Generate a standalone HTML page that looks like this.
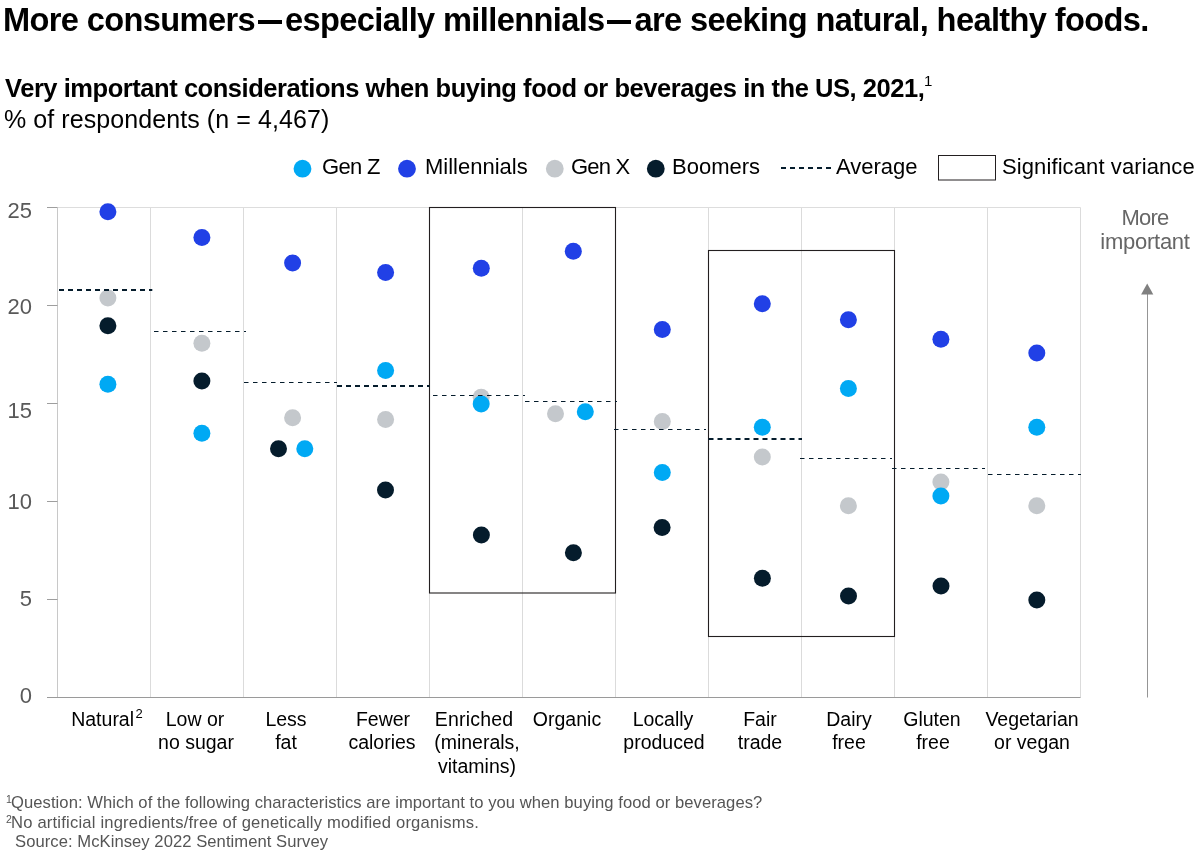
<!DOCTYPE html>
<html><head><meta charset="utf-8"><style>
html,body{margin:0;padding:0;background:#fff;}
body{width:1200px;height:852px;position:relative;overflow:hidden;font-family:"Liberation Sans",sans-serif;}
.t{position:absolute;white-space:nowrap;will-change:transform;}
.sup{font-weight:400;font-size:15px;position:relative;top:-11.5px;margin-left:-0.5px;letter-spacing:0;}
.sup2{font-size:13px;position:relative;top:-8px;margin-left:1.5px;}
.emd{display:inline-block;width:24px;height:3.6px;background:#000;margin:0 3.3px 0 2.7px;vertical-align:7.5px;}
.fsup{font-size:10.5px;position:relative;top:-5px;margin-left:-1px;margin-right:-0.8px;letter-spacing:0;}
</style></head><body>
<svg width="1200" height="852" style="position:absolute;left:0;top:0"><line x1="57.5" y1="207.5" x2="57.5" y2="697.5" stroke="#C8C8C8" stroke-width="1"/>
<line x1="150.5" y1="207.5" x2="150.5" y2="697.5" stroke="#DBDBDB" stroke-width="1"/>
<line x1="243.5" y1="207.5" x2="243.5" y2="697.5" stroke="#DBDBDB" stroke-width="1"/>
<line x1="336.5" y1="207.5" x2="336.5" y2="697.5" stroke="#DBDBDB" stroke-width="1"/>
<line x1="429.5" y1="207.5" x2="429.5" y2="697.5" stroke="#DBDBDB" stroke-width="1"/>
<line x1="522.5" y1="207.5" x2="522.5" y2="697.5" stroke="#DBDBDB" stroke-width="1"/>
<line x1="615.5" y1="207.5" x2="615.5" y2="697.5" stroke="#DBDBDB" stroke-width="1"/>
<line x1="708.5" y1="207.5" x2="708.5" y2="697.5" stroke="#DBDBDB" stroke-width="1"/>
<line x1="801.5" y1="207.5" x2="801.5" y2="697.5" stroke="#DBDBDB" stroke-width="1"/>
<line x1="894.5" y1="207.5" x2="894.5" y2="697.5" stroke="#DBDBDB" stroke-width="1"/>
<line x1="987.5" y1="207.5" x2="987.5" y2="697.5" stroke="#DBDBDB" stroke-width="1"/>
<line x1="1080.5" y1="207.5" x2="1080.5" y2="697.5" stroke="#DBDBDB" stroke-width="1"/>
<line x1="57.5" y1="207.5" x2="1080.5" y2="207.5" stroke="#DDDDDD" stroke-width="1"/>
<line x1="47" y1="207.49999999999994" x2="57.5" y2="207.49999999999994" stroke="#9E9E9E" stroke-width="1"/>
<line x1="47" y1="305.5" x2="57.5" y2="305.5" stroke="#9E9E9E" stroke-width="1"/>
<line x1="47" y1="403.5" x2="57.5" y2="403.5" stroke="#9E9E9E" stroke-width="1"/>
<line x1="47" y1="501.5" x2="57.5" y2="501.5" stroke="#9E9E9E" stroke-width="1"/>
<line x1="47" y1="599.5" x2="57.5" y2="599.5" stroke="#9E9E9E" stroke-width="1"/>
<line x1="47" y1="697.5" x2="57.5" y2="697.5" stroke="#9E9E9E" stroke-width="1"/>
<line x1="47" y1="697.5" x2="1080.5" y2="697.5" stroke="#9A9A9A" stroke-width="1"/>
<rect x="429.5" y="207.5" width="186" height="385.5" fill="none" stroke="#231F20" stroke-width="1.1"/>
<rect x="708.5" y="250.5" width="186" height="386" fill="none" stroke="#231F20" stroke-width="1.1"/>
<circle cx="107.9" cy="298.1" r="8.5" fill="#C4C8CC"/>
<circle cx="201.9" cy="343.2" r="8.5" fill="#C4C8CC"/>
<circle cx="292.6" cy="417.8" r="8.5" fill="#C4C8CC"/>
<circle cx="385.6" cy="419.4" r="8.5" fill="#C4C8CC"/>
<circle cx="481.2" cy="397.2" r="8.5" fill="#C4C8CC"/>
<circle cx="555.5" cy="413.8" r="8.5" fill="#C4C8CC"/>
<circle cx="662.3" cy="421.4" r="8.5" fill="#C4C8CC"/>
<circle cx="762.3" cy="456.9" r="8.5" fill="#C4C8CC"/>
<circle cx="848.4" cy="505.8" r="8.5" fill="#C4C8CC"/>
<circle cx="940.9" cy="482.1" r="8.5" fill="#C4C8CC"/>
<circle cx="1036.8" cy="505.8" r="8.5" fill="#C4C8CC"/>
<circle cx="107.9" cy="325.8" r="8.5" fill="#051C2C"/>
<circle cx="201.9" cy="381.0" r="8.5" fill="#051C2C"/>
<circle cx="278.5" cy="448.7" r="8.5" fill="#051C2C"/>
<circle cx="385.5" cy="490.0" r="8.5" fill="#051C2C"/>
<circle cx="481.4" cy="535.0" r="8.5" fill="#051C2C"/>
<circle cx="573.4" cy="552.8" r="8.5" fill="#051C2C"/>
<circle cx="662.1" cy="527.4" r="8.5" fill="#051C2C"/>
<circle cx="762.4" cy="578.3" r="8.5" fill="#051C2C"/>
<circle cx="848.5" cy="596.0" r="8.5" fill="#051C2C"/>
<circle cx="941" cy="586.0" r="8.5" fill="#051C2C"/>
<circle cx="1036.8" cy="599.9" r="8.5" fill="#051C2C"/>
<circle cx="107.9" cy="211.8" r="8.5" fill="#2140E6"/>
<circle cx="201.9" cy="237.4" r="8.5" fill="#2140E6"/>
<circle cx="292.6" cy="263.0" r="8.5" fill="#2140E6"/>
<circle cx="385.6" cy="272.5" r="8.5" fill="#2140E6"/>
<circle cx="481.3" cy="268.3" r="8.5" fill="#2140E6"/>
<circle cx="573.3" cy="251.2" r="8.5" fill="#2140E6"/>
<circle cx="662.3" cy="329.4" r="8.5" fill="#2140E6"/>
<circle cx="762.3" cy="303.7" r="8.5" fill="#2140E6"/>
<circle cx="848.4" cy="319.8" r="8.5" fill="#2140E6"/>
<circle cx="940.9" cy="339.3" r="8.5" fill="#2140E6"/>
<circle cx="1036.8" cy="353.0" r="8.5" fill="#2140E6"/>
<circle cx="107.9" cy="384.3" r="8.5" fill="#00A9F4"/>
<circle cx="201.9" cy="433.2" r="8.5" fill="#00A9F4"/>
<circle cx="304.8" cy="448.7" r="8.5" fill="#00A9F4"/>
<circle cx="385.6" cy="370.5" r="8.5" fill="#00A9F4"/>
<circle cx="481.2" cy="404.0" r="8.5" fill="#00A9F4"/>
<circle cx="585.3" cy="411.8" r="8.5" fill="#00A9F4"/>
<circle cx="662.3" cy="472.6" r="8.5" fill="#00A9F4"/>
<circle cx="762.3" cy="427.3" r="8.5" fill="#00A9F4"/>
<circle cx="848.4" cy="388.5" r="8.5" fill="#00A9F4"/>
<circle cx="940.9" cy="496.0" r="8.5" fill="#00A9F4"/>
<circle cx="1036.8" cy="427.3" r="8.5" fill="#00A9F4"/>
<line x1="59" y1="290" x2="152.3" y2="290" stroke="#051C2C" stroke-width="2" stroke-dasharray="5 4"/>
<line x1="154" y1="331.5" x2="246" y2="331.5" stroke="#051C2C" stroke-width="1" stroke-dasharray="4.5 4.5"/>
<line x1="244" y1="382.5" x2="337" y2="382.5" stroke="#051C2C" stroke-width="1" stroke-dasharray="4.5 4.5"/>
<line x1="337" y1="386" x2="429.5" y2="386" stroke="#051C2C" stroke-width="2" stroke-dasharray="5 4"/>
<line x1="433" y1="395.5" x2="525" y2="395.5" stroke="#051C2C" stroke-width="1" stroke-dasharray="4.5 4.5"/>
<line x1="525" y1="401.5" x2="617" y2="401.5" stroke="#051C2C" stroke-width="1" stroke-dasharray="4.5 4.5"/>
<line x1="614" y1="429.5" x2="706" y2="429.5" stroke="#051C2C" stroke-width="1" stroke-dasharray="4.5 4.5"/>
<line x1="708.5" y1="439" x2="802" y2="439" stroke="#051C2C" stroke-width="2" stroke-dasharray="5 4"/>
<line x1="800" y1="458.5" x2="892" y2="458.5" stroke="#051C2C" stroke-width="1" stroke-dasharray="4.5 4.5"/>
<line x1="892" y1="468.5" x2="985" y2="468.5" stroke="#051C2C" stroke-width="1" stroke-dasharray="4.5 4.5"/>
<line x1="988" y1="474.5" x2="1081" y2="474.5" stroke="#051C2C" stroke-width="1" stroke-dasharray="4.5 4.5"/>
<circle cx="302.5" cy="168.7" r="8.9" fill="#00A9F4"/>
<circle cx="407" cy="168.7" r="8.9" fill="#2140E6"/>
<circle cx="554.8" cy="168.7" r="8.9" fill="#C4C8CC"/>
<circle cx="655.8" cy="168.7" r="8.9" fill="#051C2C"/>
<line x1="781" y1="168" x2="832" y2="168" stroke="#051C2C" stroke-width="2" stroke-dasharray="5 4"/>
<rect x="938.5" y="155.5" width="57" height="24.5" fill="none" stroke="#231F20" stroke-width="1"/>
<line x1="1147.5" y1="293" x2="1147.5" y2="697.5" stroke="#959595" stroke-width="1"/>
<polygon points="1141.1,294.6 1153.3,294.6 1147.2,283.4" fill="#808080"/></svg>
<div class="t" style="top:0.14px;font-size:32.6px;line-height:39.12px;font-weight:700;color:#000;letter-spacing:-0.62px;left:3.2px;">More consumers<span class="emd"></span>especially millennials<span class="emd"></span>are seeking natural, healthy foods.</div>
<div class="t" style="top:72.76px;font-size:25.5px;line-height:30.6px;font-weight:700;color:#000;letter-spacing:-0.45px;left:5px;">Very important considerations when buying food or beverages in the US, 2021,<span class="sup">1</span></div>
<div class="t" style="top:103.94px;font-size:25px;line-height:30.0px;font-weight:400;color:#000;letter-spacing:0.08px;left:3.6px;">% of respondents (n = 4,467)</div>
<div class="t" style="top:154.08px;font-size:22px;line-height:26.4px;font-weight:400;color:#000;letter-spacing:-0.7px;left:322.2px;">Gen Z</div>
<div class="t" style="top:154.08px;font-size:22px;line-height:26.4px;font-weight:400;color:#000;left:424.5px;">Millennials</div>
<div class="t" style="top:154.08px;font-size:22px;line-height:26.4px;font-weight:400;color:#000;letter-spacing:-0.8px;left:571.2px;">Gen X</div>
<div class="t" style="top:154.08px;font-size:22px;line-height:26.4px;font-weight:400;color:#000;left:672.3px;">Boomers</div>
<div class="t" style="top:154.08px;font-size:22px;line-height:26.4px;font-weight:400;color:#000;left:836.3px;">Average</div>
<div class="t" style="top:154.08px;font-size:22px;line-height:26.4px;font-weight:400;color:#000;letter-spacing:0.1px;left:1001.5px;">Significant variance</div>
<div class="t" style="top:198.18px;font-size:22px;line-height:26.4px;font-weight:400;color:#595959;left:-268.2px;width:300px;text-align:right;">25</div>
<div class="t" style="top:293.93px;font-size:22px;line-height:26.4px;font-weight:400;color:#595959;left:-268.2px;width:300px;text-align:right;">20</div>
<div class="t" style="top:397.93px;font-size:22px;line-height:26.4px;font-weight:400;color:#595959;left:-268.2px;width:300px;text-align:right;">15</div>
<div class="t" style="top:488.93px;font-size:22px;line-height:26.4px;font-weight:400;color:#595959;left:-268.2px;width:300px;text-align:right;">10</div>
<div class="t" style="top:585.93px;font-size:22px;line-height:26.4px;font-weight:400;color:#595959;left:-268.2px;width:300px;text-align:right;">5</div>
<div class="t" style="top:682.93px;font-size:22px;line-height:26.4px;font-weight:400;color:#595959;left:-268.2px;width:300px;text-align:right;">0</div>
<div class="t" style="top:707.74px;font-size:19.5px;line-height:23.4px;font-weight:400;color:#000;left:-192.7px;width:600px;text-align:center;">Natural<span class="sup2">2</span></div>
<div class="t" style="top:707.74px;font-size:19.5px;line-height:23.4px;font-weight:400;color:#000;left:-105.5px;width:600px;text-align:center;">Low or</div>
<div class="t" style="top:731.24px;font-size:19.5px;line-height:23.4px;font-weight:400;color:#000;left:-104.5px;width:600px;text-align:center;">no sugar</div>
<div class="t" style="top:707.74px;font-size:19.5px;line-height:23.4px;font-weight:400;color:#000;left:-14px;width:600px;text-align:center;">Less</div>
<div class="t" style="top:731.24px;font-size:19.5px;line-height:23.4px;font-weight:400;color:#000;left:-14px;width:600px;text-align:center;">fat</div>
<div class="t" style="top:707.74px;font-size:19.5px;line-height:23.4px;font-weight:400;color:#000;left:82.5px;width:600px;text-align:center;">Fewer</div>
<div class="t" style="top:731.24px;font-size:19.5px;line-height:23.4px;font-weight:400;color:#000;left:81.69999999999999px;width:600px;text-align:center;">calories</div>
<div class="t" style="top:707.74px;font-size:19.5px;line-height:23.4px;font-weight:400;color:#000;letter-spacing:0.2px;left:173.89999999999998px;width:600px;text-align:center;">Enriched</div>
<div class="t" style="top:731.24px;font-size:19.5px;line-height:23.4px;font-weight:400;color:#000;left:176.89999999999998px;width:600px;text-align:center;">(minerals,</div>
<div class="t" style="top:754.74px;font-size:19.5px;line-height:23.4px;font-weight:400;color:#000;left:176.7px;width:600px;text-align:center;">vitamins)</div>
<div class="t" style="top:707.74px;font-size:19.5px;line-height:23.4px;font-weight:400;color:#000;left:267px;width:600px;text-align:center;">Organic</div>
<div class="t" style="top:707.74px;font-size:19.5px;line-height:23.4px;font-weight:400;color:#000;left:362.9000000000001px;width:600px;text-align:center;">Locally</div>
<div class="t" style="top:731.24px;font-size:19.5px;line-height:23.4px;font-weight:400;color:#000;left:363.70000000000005px;width:600px;text-align:center;">produced</div>
<div class="t" style="top:707.74px;font-size:19.5px;line-height:23.4px;font-weight:400;color:#000;left:459.5px;width:600px;text-align:center;">Fair</div>
<div class="t" style="top:731.24px;font-size:19.5px;line-height:23.4px;font-weight:400;color:#000;left:459.5px;width:600px;text-align:center;">trade</div>
<div class="t" style="top:707.74px;font-size:19.5px;line-height:23.4px;font-weight:400;color:#000;left:549.2px;width:600px;text-align:center;">Dairy</div>
<div class="t" style="top:731.24px;font-size:19.5px;line-height:23.4px;font-weight:400;color:#000;left:549.2px;width:600px;text-align:center;">free</div>
<div class="t" style="top:707.74px;font-size:19.5px;line-height:23.4px;font-weight:400;color:#000;left:632px;width:600px;text-align:center;">Gluten</div>
<div class="t" style="top:731.24px;font-size:19.5px;line-height:23.4px;font-weight:400;color:#000;left:632.9px;width:600px;text-align:center;">free</div>
<div class="t" style="top:707.74px;font-size:19.5px;line-height:23.4px;font-weight:400;color:#000;left:732px;width:600px;text-align:center;">Vegetarian</div>
<div class="t" style="top:731.24px;font-size:19.5px;line-height:23.4px;font-weight:400;color:#000;left:732px;width:600px;text-align:center;">or vegan</div>
<div class="t" style="top:205.08px;font-size:22px;line-height:26.4px;font-weight:400;color:#666;letter-spacing:-0.75px;left:845.4000000000001px;width:600px;text-align:center;">More</div>
<div class="t" style="top:228.98px;font-size:22px;line-height:26.4px;font-weight:400;color:#666;letter-spacing:-0.25px;left:845.4000000000001px;width:600px;text-align:center;">important</div>
<div class="t" style="top:792.69px;font-size:16.6px;line-height:19.92px;font-weight:400;color:#555;letter-spacing:0.06px;left:7.3px;"><span class="fsup">1</span>Question: Which of the following characteristics are important to you when buying food or beverages?</div>
<div class="t" style="top:812.69px;font-size:16.6px;line-height:19.92px;font-weight:400;color:#555;letter-spacing:0.19px;left:7.3px;"><span class="fsup">2</span>No artificial ingredients/free of genetically modified organisms.</div>
<div class="t" style="top:832.09px;font-size:16.6px;line-height:19.92px;font-weight:400;color:#555;letter-spacing:0.06px;left:14.5px;">Source: McKinsey 2022 Sentiment Survey</div>

</body></html>
